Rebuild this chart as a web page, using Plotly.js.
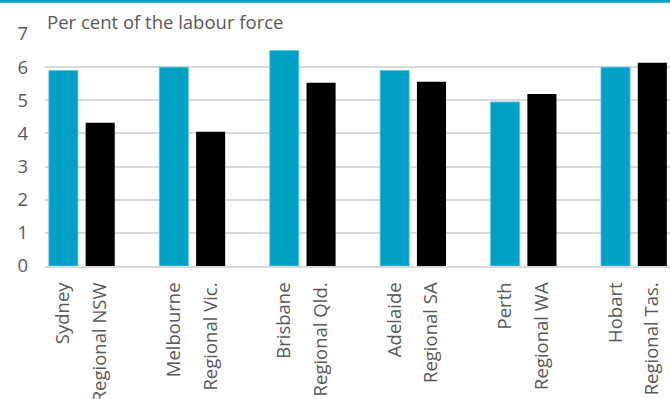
<!DOCTYPE html>
<html>
<head>
<meta charset="utf-8">
<script src="https://cdn.plot.ly/plotly-3.0.1.min.js"></script>
<style>html,body{margin:0;padding:0;background:#fff;}#chart{width:670px;height:399px;}</style>
</head>
<body>
<div id="chart"></div>
<script>
const capitals = ['Sydney','Melbourne','Brisbane','Adelaide','Perth','Hobart'];
const regions = ['Regional NSW','Regional Vic.','Regional Qld.','Regional SA','Regional WA','Regional Tas.'];
const capitalValues = [5.9, 6.0, 6.5, 5.9, 4.95, 6.0];
const regionalValues = [4.32, 4.05, 5.53, 5.56, 5.19, 6.13];
const yTicks = [0,1,2,3,4,5,6,7];

const capX = capitals.map((c,i)=>3*i);
const regX = regions.map((c,i)=>3*i+1);
const tickvals = [], ticktext = [];
capitals.forEach((c,i)=>{tickvals.push(capX[i], regX[i]); ticktext.push(c, regions[i]);});

const teal = '#00A1C5';
const grey = '#595959';
const font = "'Open Sans', sans-serif";

const data = [
  {type:'bar', x:capX, y:capitalValues, width:0.79, marker:{color:teal, line:{color:'#5cc6de', width:0.8}}, name:'Capital', hoverinfo:'skip'},
  {type:'bar', x:regX, y:regionalValues, width:0.79, marker:{color:'#000000'}, name:'Regional', hoverinfo:'skip'}
];

const layout = {
  width:670, height:399,
  margin:{l:45, r:0, t:34.3, b:133.3},
  paper_bgcolor:'#fff', plot_bgcolor:'#fff',
  showlegend:false,
  font:{family:font, color:grey, size:18.5},
  xaxis:{
    range:[-0.5, 16.48], tickvals:tickvals, ticktext:ticktext, tickangle:-90,
    showgrid:false, zeroline:false, showline:true, linecolor:'#d9d9d9', linewidth:2,
    ticks:'', ticklabelstandoff:7, tickfont:{family:font, size:18.5, color:grey}, fixedrange:true
  },
  yaxis:{
    range:[0,7], tickvals:yTicks, showgrid:true, gridcolor:'#d9d9d9', gridwidth:2,
    zeroline:false, showline:false, ticks:'', ticklabelstandoff:16,
    tickfont:{family:font, size:18.5, color:grey}, fixedrange:true
  },
  annotations:[{
    text:'Per cent of the labour force', xref:'paper', yref:'paper', x:0, y:1,
    xanchor:'left', yanchor:'bottom', showarrow:false, yshift:-2,
    font:{family:font, size:18.5, color:grey}
  }],
  shapes:[{
    type:'rect', xref:'paper', yref:'paper', x0:-0.08, x1:1.01,
    ysizemode:'pixel', yanchor:1, y0:31.3, y1:34.5,
    fillcolor:teal, line:{width:0}
  }]
};

Plotly.newPlot('chart', data, layout, {staticPlot:true, displayModeBar:false});
</script>
</body>
</html>
